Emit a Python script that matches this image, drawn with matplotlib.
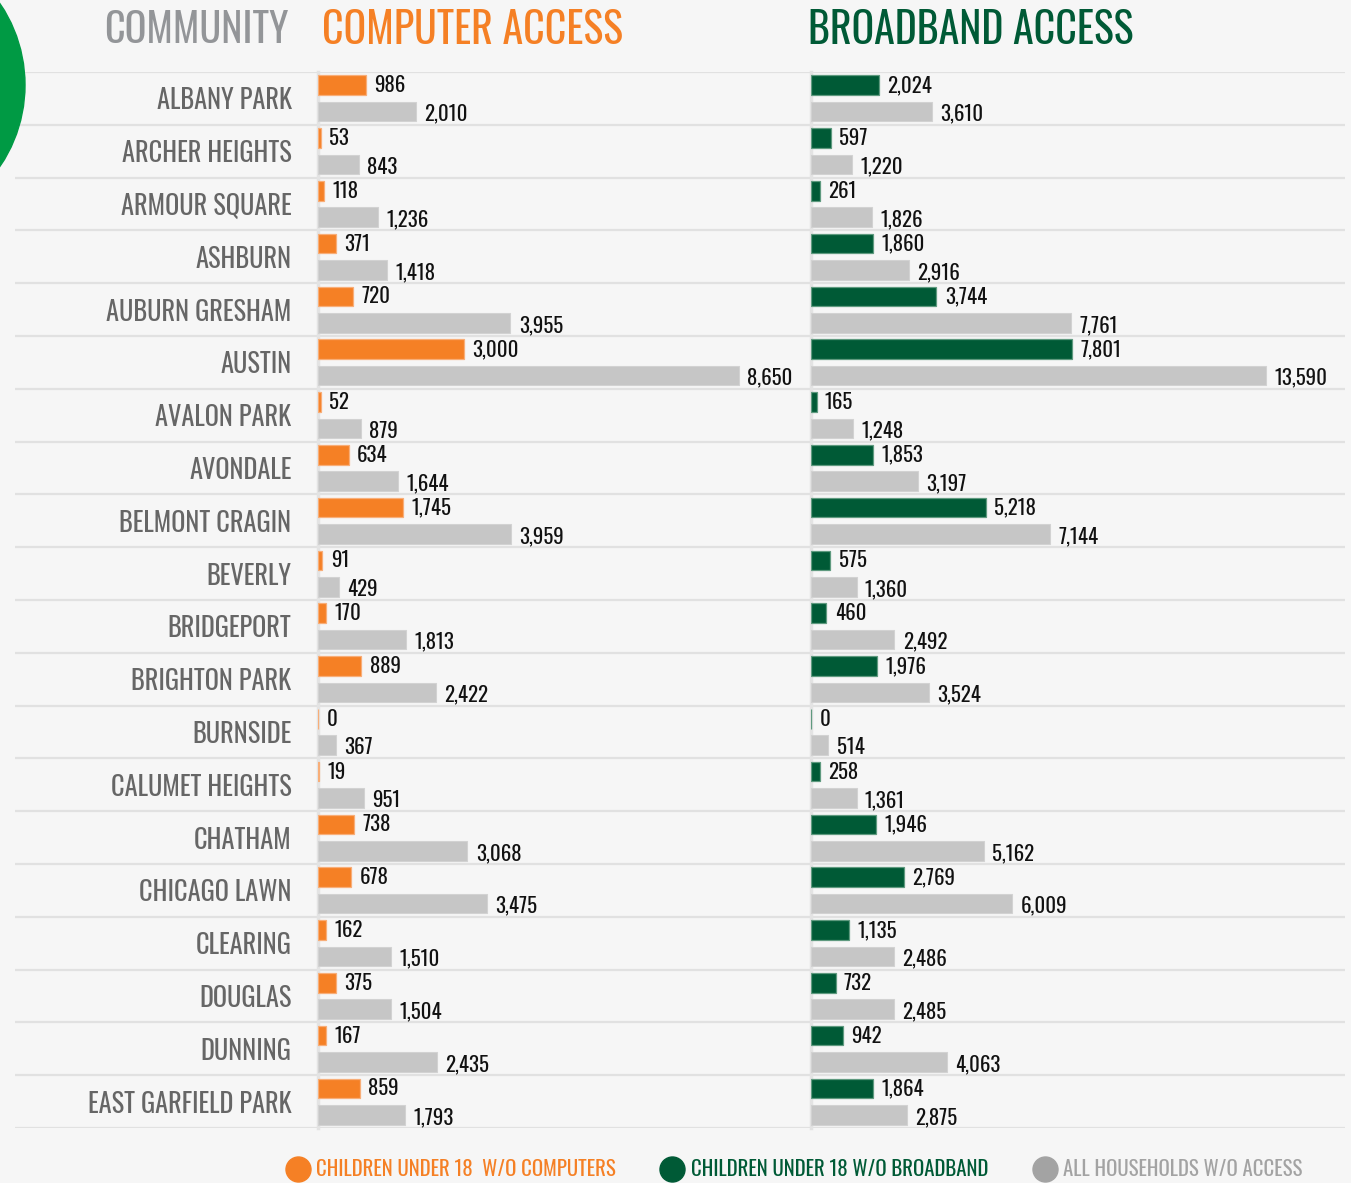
import matplotlib
matplotlib.use("Agg")
import matplotlib.pyplot as plt
from matplotlib import font_manager
from matplotlib.patches import Circle
from matplotlib.lines import Line2D
from matplotlib.transforms import IdentityTransform

# ---------------- data ----------------
communities = ["ALBANY PARK", "ARCHER HEIGHTS", "ARMOUR SQUARE", "ASHBURN", "AUBURN GRESHAM",
               "AUSTIN", "AVALON PARK", "AVONDALE", "BELMONT CRAGIN", "BEVERLY",
               "BRIDGEPORT", "BRIGHTON PARK", "BURNSIDE", "CALUMET HEIGHTS", "CHATHAM",
               "CHICAGO LAWN", "CLEARING", "DOUGLAS", "DUNNING", "EAST GARFIELD PARK"]
children_no_computer = [986, 53, 118, 371, 720, 3000, 52, 634, 1745, 91,
                        170, 889, 0, 19, 738, 678, 162, 375, 167, 859]
households_no_computer = [2010, 843, 1236, 1418, 3955, 8650, 879, 1644, 3959, 429,
                          1813, 2422, 367, 951, 3068, 3475, 1510, 1504, 2435, 1793]
children_no_broadband = [2024, 597, 261, 1860, 3744, 7801, 165, 1853, 5218, 575,
                         460, 1976, 0, 258, 1946, 2769, 1135, 732, 942, 1864]
households_no_broadband = [3610, 1220, 1826, 2916, 7761, 13590, 1248, 3197, 7144, 1360,
                           2492, 3524, 514, 1361, 5162, 6009, 2486, 2485, 4063, 2875]
legend_labels = ["CHILDREN UNDER 18  W/O COMPUTERS", "CHILDREN UNDER 18 W/O BROADBAND",
                 "ALL HOUSEHOLDS W/O ACCESS"]

# ---------------- style ----------------
BG = "#f6f6f6"
ORANGE = "#f58025"
LIGHTORANGE = "#f8ae78"
DKGREEN = "#005a36"
LIGHTGREEN = "#5f9a7f"
GRAYBAR = "#c6c6c6"
LABELGRAY = "#666666"
HEADGRAY = "#939598"
LEGGRAY = "#a3a3a3"
CIRCLEGREEN = "#009a44"

available = {f.name for f in font_manager.fontManager.ttflist}
FONT = "DejaVu Sans"
for cand in ["Oswald", "Bebas Neue", "League Gothic", "Roboto Condensed", "Open Sans Condensed",
             "Liberation Sans Narrow", "Arial Narrow"]:
    if cand in available:
        FONT = cand
        break
plt.rcParams["font.family"] = [FONT, "DejaVu Sans"]
plt.rcParams["font.stretch"] = "condensed"

W, H = 1351, 1183
fig = plt.figure(figsize=(W / 100, H / 100), dpi=100, facecolor=BG)


def fx(px):
    return px / W


def fy(py):
    return 1 - py / H


top, bottom = 72, 1128
n = len(communities)
ylim = (n - 0.5, -0.5)

# background axes for row separators
bg = fig.add_axes([fx(15), fy(bottom), fx(1345 - 15), (bottom - top) / H], zorder=0)
bg.set_xlim(0, 1)
bg.set_ylim(*ylim)
bg.axis("off")
for b in range(n + 1):
    bg.axhline(b - 0.5, color="#e1e1e1", lw=1.6)

off, hgt = 0.25, 0.37
ys = list(range(n))


def panel(left_px, width_px, xmax, kids, hh, color, light):
    ax = fig.add_axes([fx(left_px), fy(bottom), width_px / W, (bottom - top) / H], zorder=2)
    ax.patch.set_alpha(0)
    ax.set_xlim(0, xmax)
    ax.set_ylim(*ylim)
    for s in ["top", "right", "bottom"]:
        ax.spines[s].set_visible(False)
    ax.spines["left"].set_color("#e3e3e3")
    ax.spines["left"].set_linewidth(2.5)
    ax.spines["left"].set_zorder(0.5)
    ax.set_xticks([])
    ax.barh([y - off for y in ys], kids, height=hgt, color=color,
            edgecolor=light, linewidth=0.9, zorder=3)
    ax.barh([y + off for y in ys], hh, height=hgt, color=GRAYBAR, edgecolor="#d2d2d2",
            linewidth=0.8, zorder=3)
    for y, k, h in zip(ys, kids, hh):
        ax.annotate(f"{k:,}", (k, y - off), xytext=(6, 0), textcoords="offset points",
                    va="center", ha="left", fontsize=15, color="#111111", zorder=4)
        ax.annotate(f"{h:,}", (h, y + off + 0.04), xytext=(6, 0), textcoords="offset points",
                    va="center", ha="left", fontsize=15, color="#111111", zorder=4)
    return ax


ax1 = panel(318, 490, 490 / 0.04867, children_no_computer, households_no_computer, ORANGE, LIGHTORANGE)
ax2 = panel(811, 534, 534 / 0.03348, children_no_broadband, households_no_broadband, DKGREEN, LIGHTGREEN)

ax1.set_yticks(ys)
ax1.set_yticklabels(communities, fontsize=19, color=LABELGRAY)
ax1.tick_params(axis="y", length=0, pad=19)
ax2.set_yticks([])

# headers
fig.text(fx(288), fy(30), "COMMUNITY", ha="right", va="center", fontsize=29, color=HEADGRAY)
fig.text(fx(322), fy(30), "COMPUTER ACCESS", ha="left", va="center", fontsize=30.2,
         color=ORANGE, fontweight="bold")
fig.text(fx(808), fy(30), "BROADBAND ACCESS", ha="left", va="center", fontsize=30.2,
         color=DKGREEN, fontweight="bold")

# decorative green circle at top-left
fig.add_artist(Circle((-120, H - 85), 145, transform=IdentityTransform(),
                      color=CIRCLEGREEN, zorder=1))

# legend
handles = [Line2D([], [], marker="o", ls="", markersize=18, markerfacecolor=c, markeredgecolor=c)
           for c in [ORANGE, DKGREEN, LEGGRAY]]
leg = fig.legend(handles, legend_labels, loc="center", bbox_to_anchor=(fx(795), fy(1169)),
                 ncol=3, frameon=False, fontsize=15, handletextpad=0.4, columnspacing=2.2,
                 handlelength=1.0)
for t, c in zip(leg.get_texts(), [ORANGE, DKGREEN, LEGGRAY]):
    t.set_color(c)

fig.savefig("out.png", dpi=100, facecolor=BG)
